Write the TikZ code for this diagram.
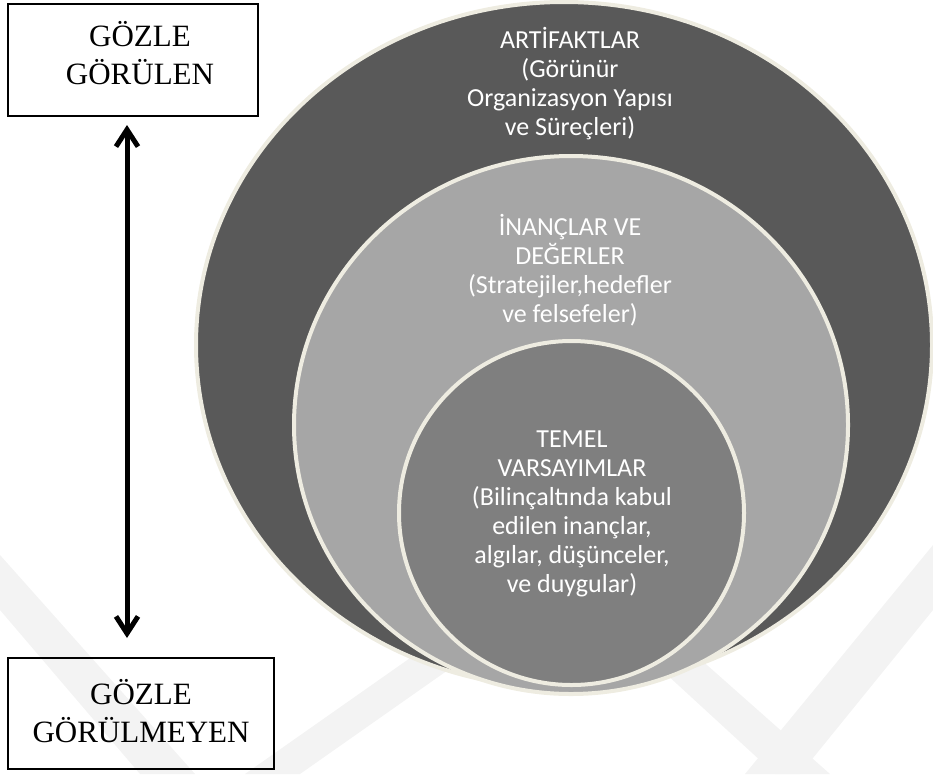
\documentclass[tikz,border=0pt]{standalone}
\usepackage{fontspec}
\setmainfont{Liberation Serif}
\newfontfamily\calib{Carlito}
\usetikzlibrary{arrows.meta,shapes.geometric}
\definecolor{outerc}{HTML}{595959}
\definecolor{midc}{HTML}{A6A6A6}
\definecolor{innerc}{HTML}{7F7F7F}
\definecolor{rim}{HTML}{EEECE1}
\definecolor{wm}{HTML}{F3F3F3}
\begin{document}
\begin{tikzpicture}[x=1pt,y=-1pt,
  layer/.style={ellipse, draw=rim, line width=4pt, inner sep=0pt},
  lbl/.style={text=white, font=\calib\fontsize{26}{29}\selectfont, align=center, inner sep=0pt},
  sidebox/.style={draw=black, line width=1.8pt, inner sep=0pt},
  sidetext/.style={font=\fontsize{31}{38.5}\selectfont, align=center, inner sep=0pt},
  wmark/.style={fill=wm, draw=none},
  bigarrow/.style={line width=5pt, {Straight Barb[length=17pt,width=22pt]}-{Straight Barb[length=17pt,width=22pt]}}
]
\useasboundingbox (0,0) rectangle (933,774);
% watermark bands
\fill[wmark] (0,555) -- (0,610) -- (140,774) -- (195,774) -- cycle;
\fill[wmark] (245,774) -- (300,774) -- (505,630) -- (450,630) -- cycle;
\fill[wmark] (640,650) -- (690,650) -- (830,774) -- (775,774) -- cycle;
\fill[wmark] (745,774) -- (800,774) -- (933,610) -- (933,545) -- cycle;
% nested ellipses
\node[layer, fill=outerc, minimum width=736, minimum height=686] (outer) at (564,345) {};
\node[layer, fill=midc, minimum width=554, minimum height=538] (middle) at (571,425) {};
\node[layer, fill=innerc, minimum width=345, minimum height=344] (inner) at (571.5,513) {};
% labels
\node[lbl] (louter) at (570,84) {ARTİFAKTLAR\\(Görünür\\Organizasyon Yapısı\\ve Süreçleri)};
\node[lbl] (lmiddle) at (570,270) {İNANÇLAR VE\\DEĞERLER\\(Stratejiler,hedefler\\ve felsefeler)};
\node[lbl] (linner) at (572,514) {TEMEL\\VARSAYIMLAR\\(Bilinçaltında kabul\\edilen inançlar,\\algılar, düşünceler,\\ve duygular)};
% side boxes
\node[sidebox, minimum width=250, minimum height=112] (seen) at (133,60) {};
\node[sidetext] (seenlbl) at (140,53) {GÖZLE\\GÖRÜLEN};
\node[sidebox, minimum width=266, minimum height=111] (unseen) at (141,713.5) {};
\node[sidetext] (unseenlbl) at (141,711) {GÖZLE\\GÖRÜLMEYEN};
% arrow
\coordinate (atop) at (127,125);
\coordinate (abot) at (127,638);
\draw[bigarrow] (atop) -- (abot);
\end{tikzpicture}
\end{document}
